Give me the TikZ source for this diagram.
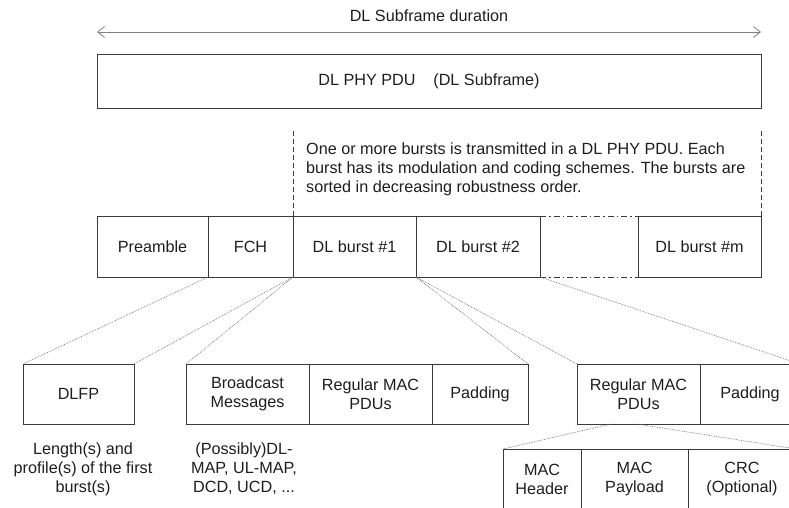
\documentclass[tikz,border=0pt]{standalone}
\usepackage{fontspec}
\setmainfont{Liberation Sans}
\usetikzlibrary{arrows.meta}
\definecolor{ink}{HTML}{1E1E1E}
\definecolor{rule}{HTML}{3A3A3A}
\definecolor{dots}{HTML}{707070}
\begin{document}
\begin{tikzpicture}[x=1pt,y=-1pt,
  every node/.style={font=\fontsize{16.2}{19}\selectfont, text=ink},
  cell/.style={draw=rule, line width=0.9pt, rectangle, inner sep=0pt, outer sep=0pt,
    align=center, minimum height=61pt},
  link/.style={draw=dots, line width=0.7pt, densely dotted},
  guide/.style={draw=rule, line width=0.8pt, dash pattern=on 5pt off 3pt},
  gapline/.style={draw=rule, line width=0.8pt, dash pattern=on 6pt off 3pt on 1.5pt off 3pt},
  note/.style={align=center, inner sep=0pt}]
\useasboundingbox (0,0) rectangle (789,508);
\clip (0,0) rectangle (789,508);

% duration arrow and the whole subframe
\node (durlabel) at (429,16) {DL Subframe duration};
\coordinate (durL) at (97,32);
\coordinate (durR) at (761,32);
\draw[draw=gray, line width=0.8pt, {Straight Barb[length=7pt,width=11pt]}-{Straight Barb[length=7pt,width=11pt]}] (durL) -- (durR);
\node[cell, minimum width=664pt, minimum height=54pt] (pdu) at (429,81) {DL PHY PDU\hspace{1.1em}(DL Subframe)};

% subframe contents
\node[cell, minimum width=111pt] (pre) at (152.5,246.5) {Preamble};
\node[cell, minimum width=85pt]  (fch) at (250.5,246.5) {FCH};
\node[cell, minimum width=123pt] (b1)  at (354.5,246.5) {DL burst \#1};
\node[cell, minimum width=124pt] (b2)  at (478,246.5) {DL burst \#2};
\node[inner sep=0pt, outer sep=0pt, minimum width=98pt, minimum height=61pt] (gap) at (589,246.5) {};
\node[cell, minimum width=123pt] (bm)  at (699.5,246.5) {DL burst \#m};
\draw[gapline] (gap.north west) -- (gap.north east);
\draw[gapline] (gap.south west) -- (gap.south east);

% bracket around the bursts and its note
\draw[guide] (b1.north west) -- ++(0,-87);
\draw[guide] (bm.north east) -- ++(0,-87);
\node[anchor=north west, align=left, inner sep=0pt] (burstnote) at (306,143)
  {One or more bursts is transmitted in a DL PHY PDU. Each\\
   burst has its modulation and coding schemes. The bursts are\\
   sorted in decreasing robustness order.};

% FCH content
\node[cell, minimum width=111pt, minimum height=60pt] (dlfp) at (78.5,394) {DLFP};
\node[note] (dlfpnote) at (83,469) {Length(s) and\\profile(s) of the first\\burst(s)};

% first burst content
\node[cell, minimum width=123pt, minimum height=60pt] (bcast) at (247.5,394) {Broadcast\\Messages};
\node[cell, minimum width=123pt, minimum height=60pt] (rmac1) at (370.5,394) {Regular MAC\\PDUs};
\node[cell, minimum width=96pt, minimum height=60pt]  (pad1)  at (480,394) {Padding};
\node[note] (bcastnote) at (244,469) {(Possibly)DL-\\MAP, UL-MAP,\\DCD, UCD, ...};

% second burst content
\node[cell, minimum width=123pt, minimum height=60pt] (rmac2) at (638.5,394) {Regular MAC\\PDUs};
\node[cell, minimum width=100pt, minimum height=60pt] (pad2)  at (750,394) {Padding};

% MAC PDU layout
\node[cell, minimum width=78pt, minimum height=60pt]  (mhdr) at (542,479) {MAC\\Header};
\node[cell, minimum width=107pt, minimum height=60pt] (mpay) at (634.5,479) {MAC\\Payload};
\node[cell, minimum width=108pt, minimum height=60pt] (crc)  at (742,479) {CRC\\(Optional)};

% expansion links
\draw[link] (fch.south west) -- (dlfp.north west);
\draw[link] (fch.south east) -- (dlfp.north east);
\draw[link] (b1.south west) -- (bcast.north west);
\draw[link] (b1.south east) -- (pad1.north east);
\draw[link] (b2.south west) -- (rmac2.north west);
\draw[link] (b2.south east) -- (pad2.north east);
\draw[link] ([xshift=34pt]rmac2.south west) -- (mhdr.north west);
\draw[link] ([xshift=60pt]rmac2.south west) -- (crc.north east);
\end{tikzpicture}
\end{document}
